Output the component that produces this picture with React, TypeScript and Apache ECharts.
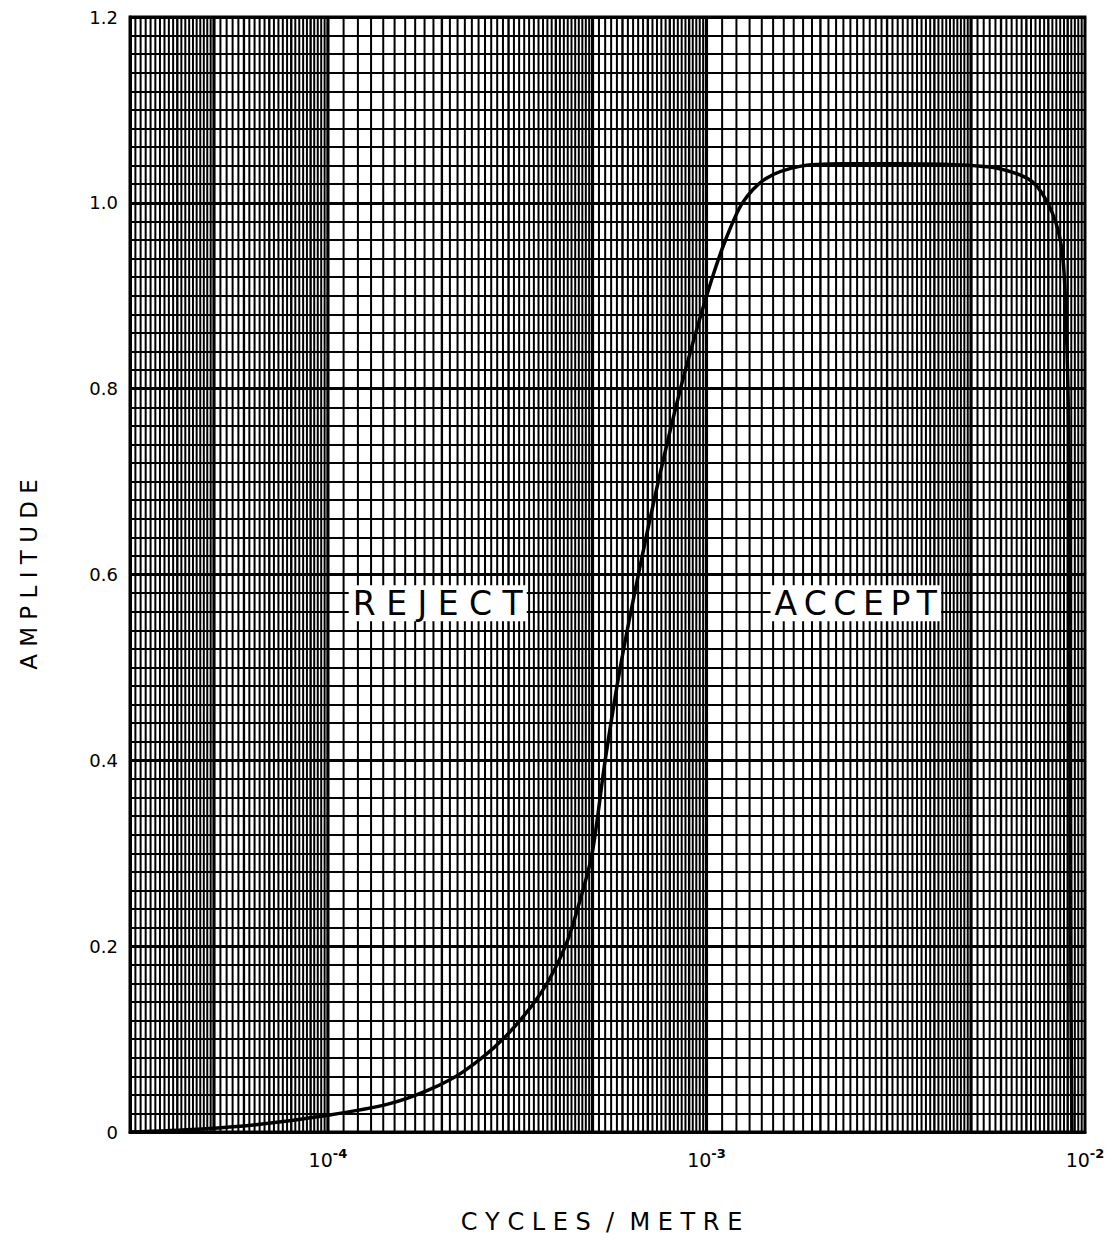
import React, { useEffect, useRef } from "react";
import * as echarts from "echarts";

// ---- data ----
const X_MIN = 3e-5;
const X_MAX = 1e-2;
const Y_MIN = 0;
const Y_MAX = 1.2;
const Y_INTERVAL = 0.2;

// cycles / metre
const FREQ = [
  3.0e-5, 4.53e-5, 6.53e-5, 1.0e-4, 1.44e-4, 1.84e-4, 2.28e-4, 2.9e-4, 3.66e-4,
  4.24e-4, 4.64e-4, 4.99e-4, 5.4e-4, 5.92e-4, 6.61e-4, 7.46e-4, 8.54e-4,
  9.52e-4, 1.037e-3, 1.123e-3, 1.245e-3, 1.433e-3, 1.75e-3, 2.3e-3, 3.2e-3,
  4.5e-3, 5.9e-3, 7.24e-3, 8.18e-3, 8.7e-3, 8.91e-3, 9.07e-3, 9.13e-3,
  9.18e-3, 9.24e-3,
];
// amplitude
const AMP = [
  0.0, 0.003, 0.008, 0.018, 0.03, 0.045, 0.065, 0.1, 0.15, 0.2, 0.25, 0.3, 0.4,
  0.5, 0.6, 0.7, 0.8, 0.87, 0.92, 0.96, 1.0, 1.026, 1.039, 1.042, 1.042, 1.041,
  1.037, 1.023, 0.99, 0.948, 0.876, 0.733, 0.464, 0.142, 0.0,
];

const X_TICK_EXP: Record<string, string> = { "-4": "-4", "-3": "-3", "-2": "-2" };

const ANNOT_TEXT = ["R E J E C T", "A\u2009C\u2009C\u2009E\u2009P\u2009T"];
const ANNOT_X = [1.95e-4, 2.48e-3];
const ANNOT_Y = [0.569, 0.569];

// log-paper rulings (mantissas inside one decade)
const PAPER_DECADES = [-5, -4, -3];
const RULE_1_TO_2 = [1.1, 1.2, 1.3, 1.4, 1.5, 1.6, 1.7, 1.8, 1.9];
const RULE_2_TO_5 = [
  2.0, 2.1, 2.2, 2.3, 2.4, 2.5, 2.6, 2.7, 2.8, 2.9, 3.0, 3.1, 3.2, 3.3, 3.4,
  3.5, 3.6, 3.7, 3.8, 3.9, 4.0, 4.1, 4.2, 4.3, 4.4, 4.5, 4.6, 4.7, 4.8, 4.9,
];
const RULE_5_TO_10 = [
  5.0, 5.2, 5.4, 5.6, 5.8, 6.0, 6.2, 6.4, 6.6, 6.8, 7.0, 7.2, 7.4, 7.6, 7.8,
  8.0, 8.2, 8.4, 8.6, 8.8, 9.0, 9.2, 9.4, 9.6, 9.8,
];
const BOLD_RULES = [1, 5];

export default function App() {
  const ref = useRef<HTMLDivElement>(null);

  useEffect(() => {
    if (!ref.current) return;
    const chart = echarts.init(ref.current, undefined, { renderer: "svg" });

    const mantissas = [1, ...RULE_1_TO_2, ...RULE_2_TO_5, ...RULE_5_TO_10];
    const paper: number[][] = [];
    PAPER_DECADES.forEach((d) => {
      mantissas.forEach((m) => {
        const v = m * Math.pow(10, d);
        if (v > X_MIN && v < X_MAX * 0.999) {
          let w = 2.0;
          if (Math.abs(m - Math.round(m)) < 1e-9) w = 2.4;
          if (BOLD_RULES.indexOf(m) >= 0) w = 3.2;
          paper.push([v, w]);
        }
      });
    });

    const font = "DejaVu Sans";

    chart.setOption({
      animation: false,
      backgroundColor: "#ffffff",
      grid: {
        left: 122,
        right: 33,
        top: 7,
        bottom: 108,
        show: true,
        borderColor: "#000",
        borderWidth: 3,
        backgroundColor: "transparent",
      },
      xAxis: {
        type: "log",
        logBase: 10,
        min: X_MIN,
        max: X_MAX,
        name: "C Y C L E S  /  M E T R E",
        nameLocation: "middle",
        nameGap: 78,
        nameTextStyle: { fontFamily: font, fontSize: 24, color: "#000", padding: [0, 12, 0, 0] },
        axisLine: { show: true, lineStyle: { color: "#000", width: 3 } },
        axisTick: { show: false },
        splitLine: { show: false },
        axisLabel: {
          margin: 15,
          color: "#000",
          formatter: (v: number) => {
            const e = Math.log10(v);
            const r = Math.round(e);
            if (Math.abs(e - r) < 1e-6 && X_TICK_EXP[String(r)])
              return "{b|10}{s|" + X_TICK_EXP[String(r)] + "}";
            return "";
          },
          rich: {
            b: { fontFamily: font, fontSize: 19, lineHeight: 22, verticalAlign: "bottom", color: "#000" },
            s: { fontFamily: font, fontSize: 13, lineHeight: 13, verticalAlign: "top", color: "#000", fontWeight: "bold" },
          },
        },
      },
      yAxis: {
        type: "value",
        min: Y_MIN,
        max: Y_MAX,
        interval: Y_INTERVAL,
        name: "A M P L I T U D E",
        nameLocation: "middle",
        nameGap: 90,
        nameRotate: 90,
        nameTextStyle: { fontFamily: font, fontSize: 23, color: "#000" },
        axisLine: { show: true, lineStyle: { color: "#000", width: 3 } },
        axisTick: { show: false },
        axisLabel: {
          margin: 12,
          fontFamily: font,
          fontSize: 18,
          color: "#000",
          formatter: (v: number) => (v === 0 ? "0" : v.toFixed(1)),
        },
        splitLine: { show: true, lineStyle: { color: "#000", width: 3 } },
        minorTick: { show: false, splitNumber: 10 },
        minorSplitLine: { show: true, lineStyle: { color: "#000", width: 2.1 } },
      },
      series: [
        {
          type: "custom",
          silent: true,
          clip: true,
          data: paper,
          encode: { x: 0 },
          renderItem: (_p: any, api: any) => {
            const v = api.value(0);
            const w = api.value(1);
            const a = api.coord([v, Y_MAX]);
            const b = api.coord([v, Y_MIN]);
            return {
              type: "line",
              shape: { x1: a[0], y1: a[1], x2: b[0], y2: b[1] },
              style: { stroke: "#000", lineWidth: w },
            };
          },
          z: 1,
        },
        {
          type: "line",
          data: FREQ.map((f, i) => [f, AMP[i]]),
          showSymbol: false,
          smooth: 0.3,
          lineStyle: { color: "#000", width: 3.5 },
          z: 5,
        },
        {
          type: "scatter",
          data: ANNOT_X.map((x, i) => ({ value: [x, ANNOT_Y[i]], name: ANNOT_TEXT[i] })),
          symbolSize: 0,
          itemStyle: { color: "#000", opacity: 1 },
          label: {
            show: true,
            position: "inside",
            formatter: (p: any) => p.name,
            fontFamily: font,
            fontSize: 33,
            color: "#000",
            textBorderWidth: 0,
            opacity: 1,
            backgroundColor: "#fff",
            padding: [3, 4, 0, 4],
          },
          z: 6,
        },
      ],
    });

    return () => chart.dispose();
  }, []);

  return <div ref={ref} style={{ width: 1110, height: 1232 }} />;
}
